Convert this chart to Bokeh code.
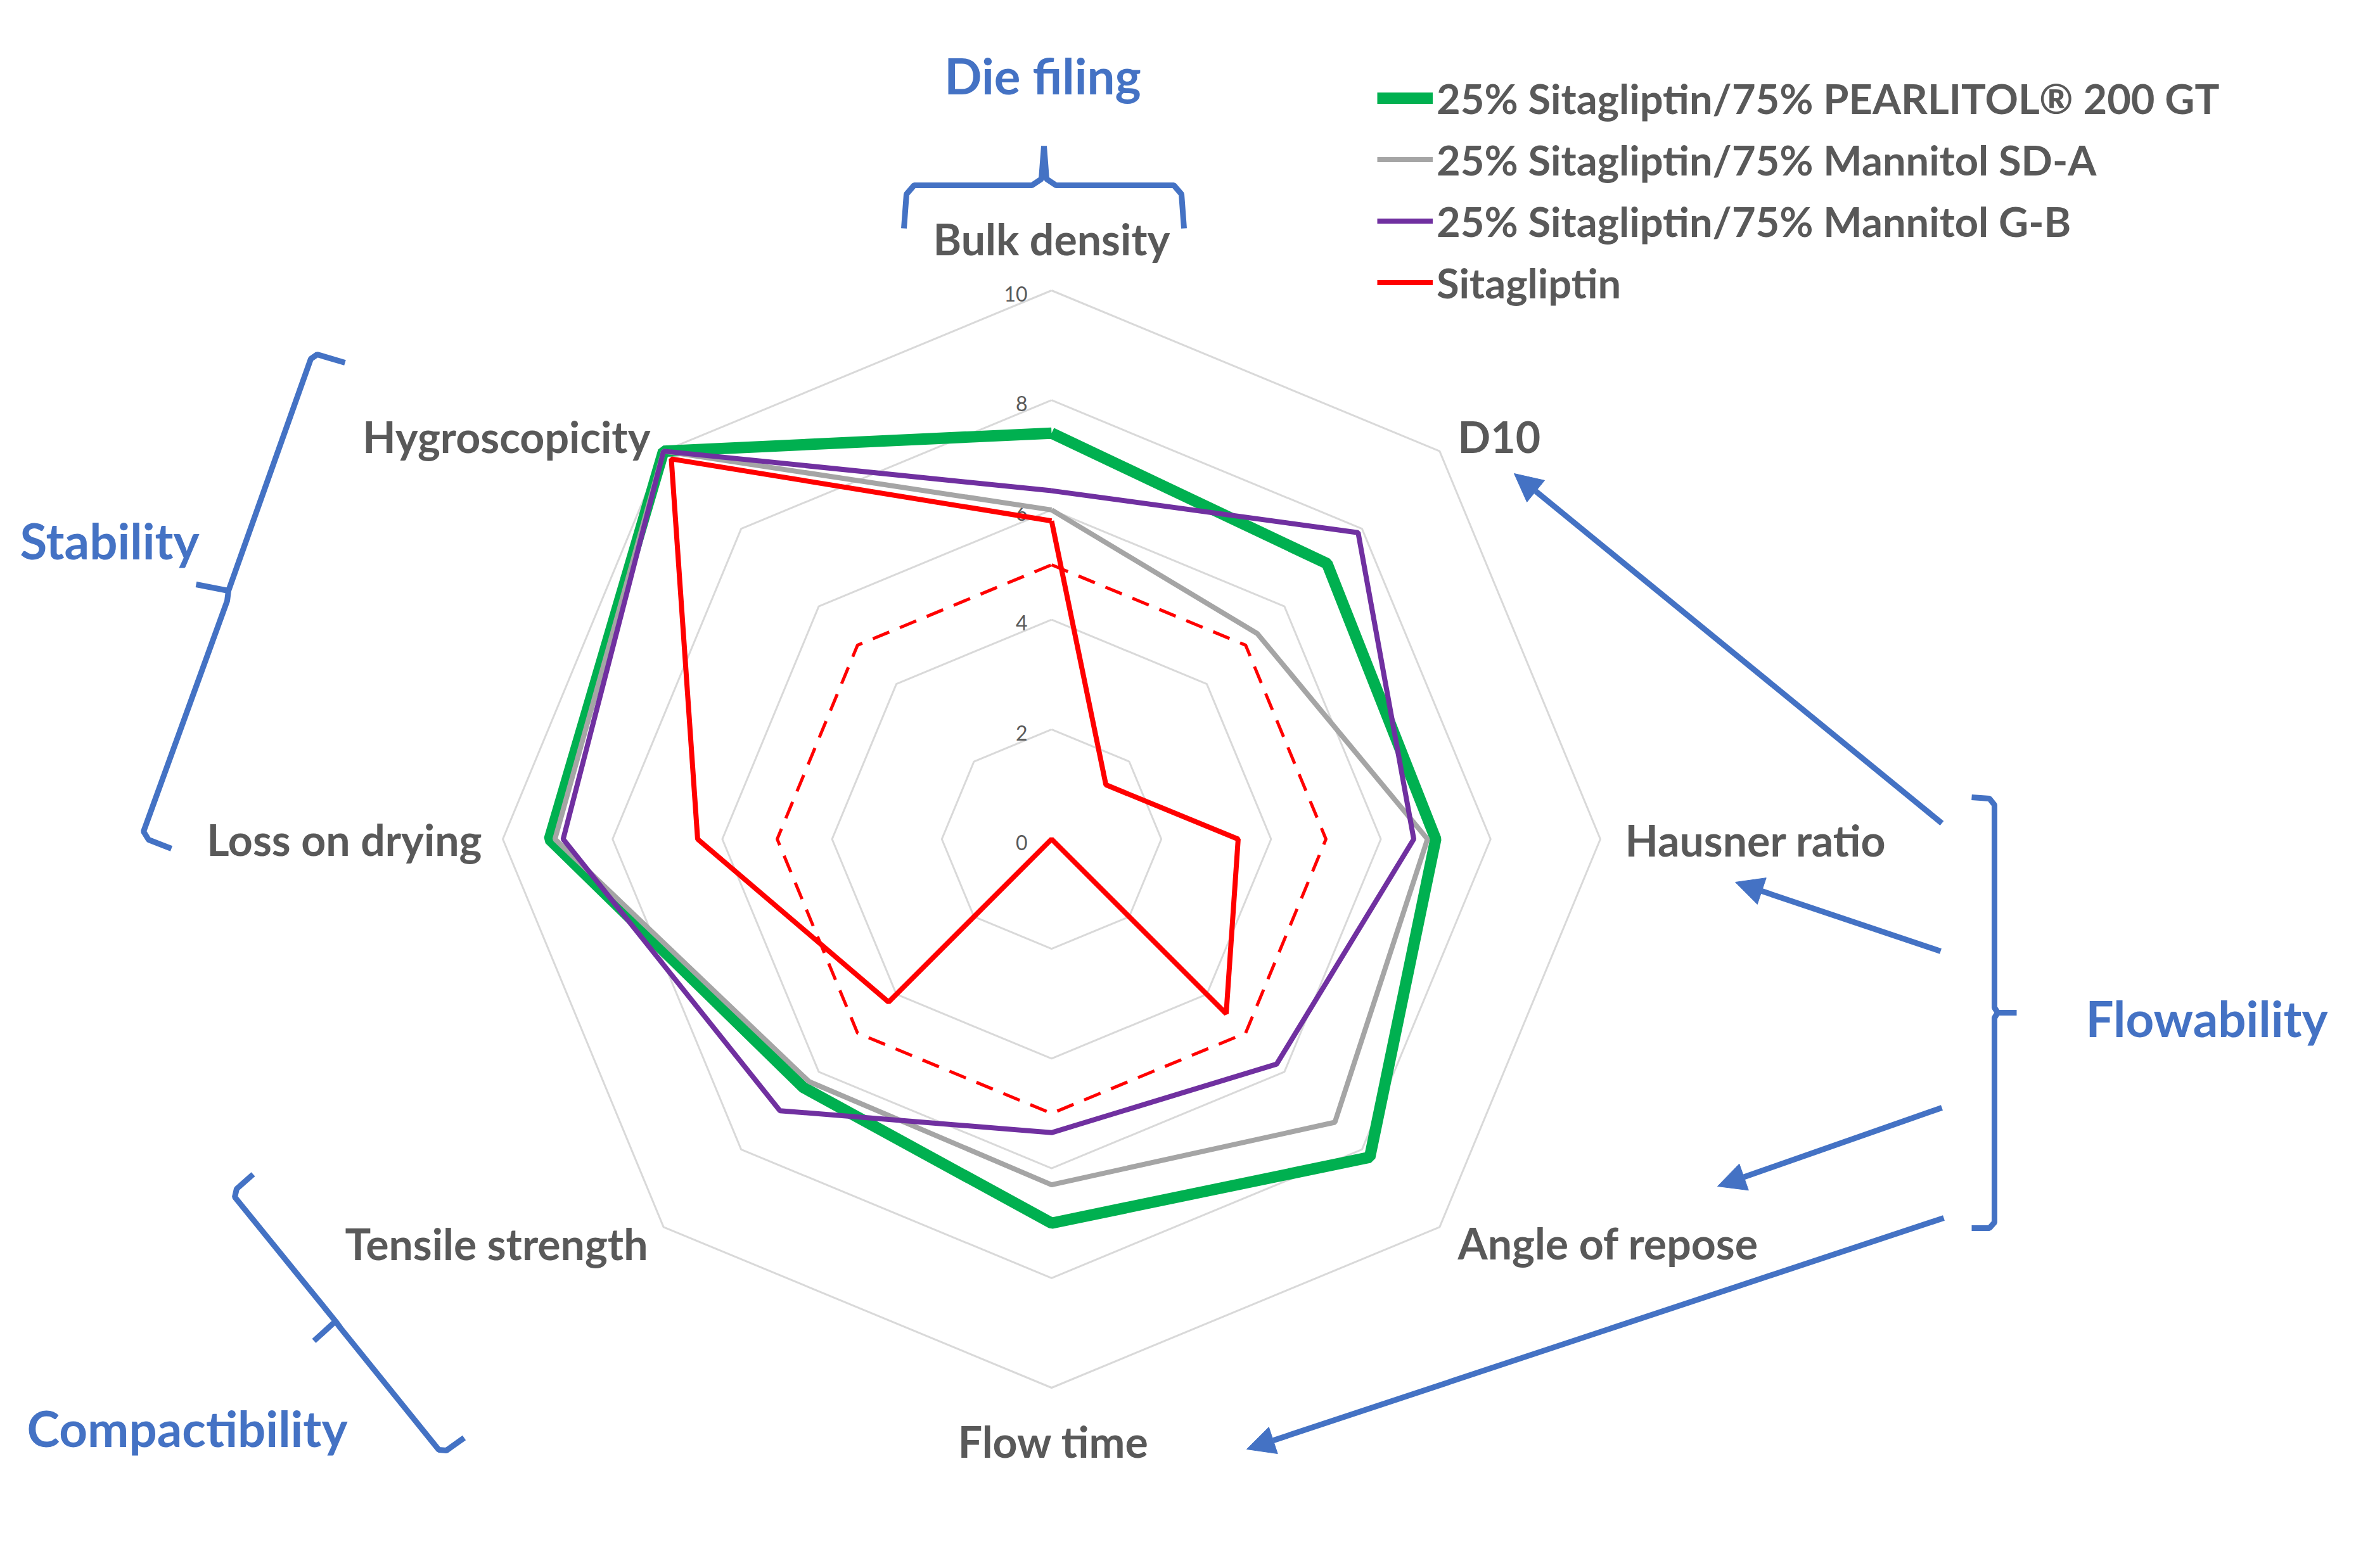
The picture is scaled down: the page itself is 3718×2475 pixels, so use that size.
import numpy as np
from bokeh.plotting import figure
from bokeh.models import Range1d, Legend, LegendItem, Arrow, NormalHead
from bokeh.embed import file_html
from bokeh.resources import INLINE
from bokeh.core.properties import value

# ---------------- data ----------------
categories = ["Bulk density", "D10", "Hausner ratio", "Angle of repose",
              "Flow time", "Tensile strength", "Loss on drying", "Hygroscopicity"]
pearlitol = [7.4, 7.1, 7.0, 8.2, 7.0, 6.4, 9.15, 10.0]
mannitol_sda = [6.0, 5.3, 6.85, 7.3, 6.3, 6.25, 9.05, 10.0]
mannitol_gb = [6.35, 7.9, 6.6, 5.8, 5.35, 7.0, 8.9, 10.0]
sitagliptin = [5.8, 1.4, 3.4, 4.5, 0.0, 4.2, 6.45, 9.8]
reference_level = [5, 5, 5, 5, 5, 5, 5, 5]
ticks = [0, 2, 4, 6, 8, 10]
series_names = ["25% Sitagliptin/75% PEARLITOL\u00ae 200 GT",
                "25% Sitagliptin/75% Mannitol SD-A",
                "25% Sitagliptin/75% Mannitol G-B",
                "Sitagliptin"]
groups = ["Die filing", "Stability", "Flowability", "Compactibility"]

# ---------------- geometry / style ----------------
W, H = 3700, 2455
CX, CY, UNIT = 1667.0, 1332.0, 86.6
N = len(categories)
ang = np.pi / 2 - np.arange(N) * 2 * np.pi / N

def polar(vals, close=True):
    v = np.asarray(vals, dtype=float)
    xs = CX + v * UNIT * np.cos(ang)
    ys = CY - v * UNIT * np.sin(ang)
    if close:
        xs = np.append(xs, xs[0]); ys = np.append(ys, ys[0])
    return xs, ys

GRAY_TXT = "#595959"
BLUE = "#4472C4"
FONT = value("Lato")
LBL_SIZE = 68
GRP_SIZE = 78
TICK_SIZE = 32

p = figure(width=W, height=H, x_range=Range1d(8, 8 + W), y_range=Range1d(8 + H, 8),
           output_backend="svg", toolbar_location=None, min_border=0,
           x_axis_location=None, y_axis_location=None, outline_line_color=None)
p.xgrid.visible = False
p.ygrid.visible = False
p.background_fill_color = "white"

# grid rings
for t in ticks[1:]:
    gx, gy = polar([t] * N)
    p.line(gx, gy, line_color="#D9D9D9", line_width=3)

# tick labels
p.text(x=[CX - 38] * len(ticks), y=[CY - t * UNIT + 13 - 0.24 * TICK_SIZE for t in ticks],
       text=[str(t) for t in ticks], text_font=FONT, text_font_size=f"{TICK_SIZE}px",
       text_color=GRAY_TXT, text_align="right", text_baseline="alphabetic")

# series
rx, ry = polar(reference_level)
p.line(rx, ry, line_color="#FF0000", line_width=5, line_dash="28 18")

styles = [("#00B050", 18), ("#A5A5A5", 8), ("#7030A0", 8), ("#FF0000", 8)]
renderers = []
for vals, (col, lw) in zip([pearlitol, mannitol_sda, mannitol_gb, sitagliptin], styles):
    sx, sy = polar(vals)
    r = p.line(sx, sy, line_color=col, line_width=lw)
    renderers.append(r)

# category labels (baseline positions)
label_pos = {
    "Bulk density": (1667, 402, "center"),
    "D10": (2308, 714, "left"),
    "Hausner ratio": (2572, 1351, "left"),
    "Angle of repose": (2308, 1987, "left"),
    "Flow time": (1670, 2300, "center"),
    "Tensile strength": (1030, 1988, "right"),
    "Loss on drying": (768, 1350, "right"),
    "Hygroscopicity": (1034, 714, "right"),
}
for align in ["left", "center", "right"]:
    sel = [c for c in categories if label_pos[c][2] == align]
    p.text(x=[label_pos[c][0] for c in sel],
           y=[label_pos[c][1] - 0.26 * LBL_SIZE for c in sel], text=sel,
           text_font=FONT, text_font_style="bold", text_font_size=f"{LBL_SIZE}px",
           text_color=GRAY_TXT, text_align=align, text_baseline="alphabetic")

# group labels
group_pos = {"Die filing": (1653, 146, "center"), "Stability": (39, 880, "left"),
             "Flowability": (3299, 1634, "left"), "Compactibility": (50, 2281, "left")}
for g in groups:
    gx_, gy_, al = group_pos[g]
    p.text(x=[gx_], y=[gy_ - 0.25 * GRP_SIZE], text=[g], text_font=FONT, text_font_style="bold",
           text_font_size=f"{GRP_SIZE}px", text_color=BLUE, text_align=al,
           text_baseline="alphabetic")

# braces
braces = [
    [(1434, 368), (1438, 314), (1450, 300), (1636, 300), (1651, 290), (1655, 238)],
    [(1655, 238), (1659, 290), (1674, 300), (1860, 300), (1872, 314), (1876, 368)],
    [(552, 580), (508, 567), (498, 574), (368, 940), (317, 930)],
    [(368, 940), (366, 956), (234, 1320), (242, 1333), (278, 1347)],
    [(407, 1861), (381, 1884), (378, 1897), (537, 2093), (503, 2124)],
    [(537, 2093), (545, 2104), (700, 2296), (712, 2297), (740, 2277)],
    [(3119, 1266), (3147, 1268), (3155, 1278), (3155, 1598), (3160, 1606), (3190, 1606)],
    [(3160, 1606), (3155, 1614), (3155, 1937), (3147, 1946), (3119, 1946)],
]
for b in braces:
    p.line([q[0] for q in b], [q[1] for q in b], line_color=BLUE, line_width=9)

# arrows
arrows = [((3072, 1307), (2397, 755)), ((3070, 1509), (2746, 1400)),
          ((3072, 1756), (2718, 1880)), ((3075, 1930), (1975, 2295))]
for (x0, y0), (x1, y1) in arrows:
    p.add_layout(Arrow(x_start=x0, y_start=y0, x_end=x1, y_end=y1, line_color=BLUE,
                       line_width=9,
                       end=NormalHead(size=44, fill_color=BLUE, line_color=BLUE, line_width=1)))

# legend
legend = Legend(items=[LegendItem(label=n, renderers=[r]) for n, r in zip(series_names, renderers)],
                location=(2173, 1961), orientation="vertical",
                label_text_font="Lato", label_text_font_style="bold", label_text_font_size="65px",
                label_text_color=GRAY_TXT, glyph_width=88, glyph_height=97, label_height=97,
                label_standoff=6, spacing=0, padding=0, margin=0,
                border_line_alpha=0, background_fill_alpha=0)
p.add_layout(legend)

open("out.html", "w").write(file_html(p, INLINE))
